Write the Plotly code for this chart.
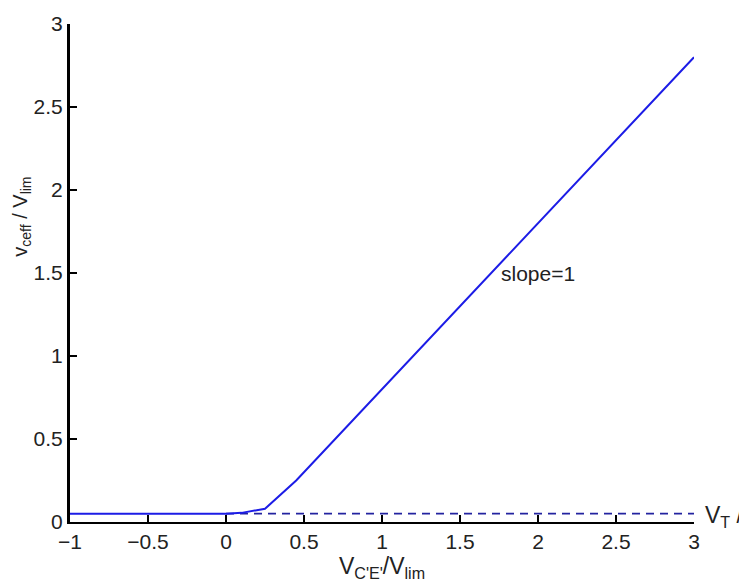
import plotly.graph_objects as go

# Normalised collector-emitter voltage and effective voltage
v_ce = [-1.0, -0.5, 0.0, 0.1, 0.25, 0.45, 1.0, 1.5, 2.0, 2.5, 3.0]
v_ceff = [0.05, 0.05, 0.05, 0.055, 0.08, 0.25, 0.8, 1.3, 1.8, 2.3, 2.8]

# Thermal-voltage floor (dashed)
vt_x = [0.0, 3.0]
vt_y = [0.05, 0.05]

x_ticks = [-1, -0.5, 0, 0.5, 1, 1.5, 2, 2.5, 3]
x_tick_text = ["\u22121", "\u22120.5", "0", "0.5", "1", "1.5", "2", "2.5", "3"]
y_ticks = [0, 0.5, 1, 1.5, 2, 2.5, 3]
y_tick_text = ["0", "0.5", "1", "1.5", "2", "2.5", "3"]

font_family = "Liberation Sans, Arial, sans-serif"
text_color = "#222222"

fig = go.Figure()
fig.add_trace(go.Scatter(
    x=vt_x, y=vt_y, mode="lines",
    line=dict(color="#2323a0", width=1.8, dash="8px,6px"),
    showlegend=False, hoverinfo="skip",
))
fig.add_trace(go.Scatter(
    x=v_ce, y=v_ceff, mode="lines",
    line=dict(color="#1c1ce6", width=2),
    showlegend=False, hoverinfo="skip",
))

fig.add_annotation(
    x=1.75, y=1.5, xref="x", yref="y", text="slope=1",
    showarrow=False, xanchor="left", yanchor="middle",
    font=dict(family=font_family, size=21, color=text_color),
)
# Label for the dashed floor, sitting just past the right end of the axis
fig.add_annotation(
    x=1.014, y=0.012, xref="paper", yref="paper",
    text="V<sub>T</sub> / V<sub>lim</sub>",
    showarrow=False, xanchor="left", yanchor="middle",
    font=dict(family=font_family, size=23, color=text_color),
)
# Vertical axis title
fig.add_annotation(
    x=-0.077, y=0.613, xref="paper", yref="paper",
    text="v<sub>ceff</sub> / V<sub>lim</sub>", textangle=-90,
    showarrow=False, xanchor="center", yanchor="middle",
    font=dict(family=font_family, size=20, color=text_color),
)

fig.update_layout(
    width=739, height=588,
    margin=dict(l=70, r=45, t=20, b=66),
    paper_bgcolor="white", plot_bgcolor="white",
    font=dict(family=font_family, size=21, color=text_color),
    xaxis=dict(
        range=[-1, 3], tickvals=x_ticks, ticktext=x_tick_text,
        showgrid=False, zeroline=False, showline=True,
        linecolor="black", linewidth=2, ticks="inside", ticklen=7,
        tickwidth=2, tickcolor="black", mirror=False,
        title=dict(text="V<sub>C'E'</sub>/V<sub>lim</sub>", standoff=4,
                   font=dict(size=23)),
    ),
    yaxis=dict(
        range=[0, 3], tickvals=y_ticks, ticktext=y_tick_text,
        showgrid=False, zeroline=False, showline=True,
        linecolor="black", linewidth=3, ticks="inside", ticklen=7,
        tickwidth=2, tickcolor="black", mirror=False,
    ),
)

fig.write_html("out.html")
